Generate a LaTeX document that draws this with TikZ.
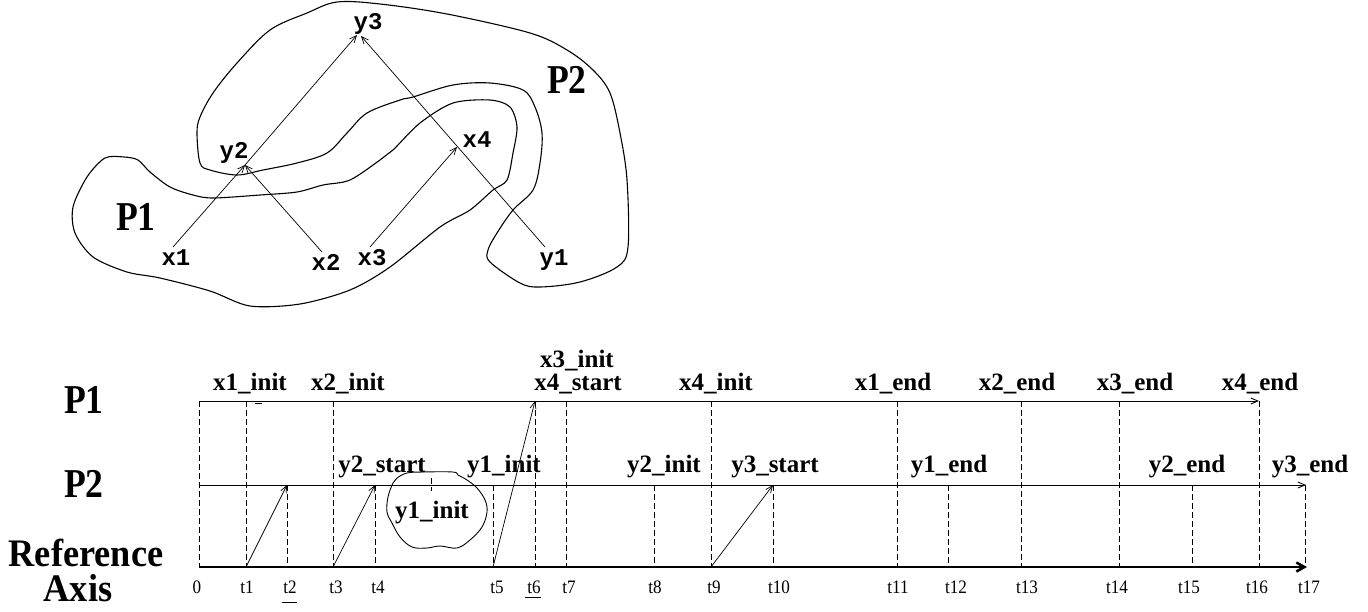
\documentclass[tikz,border=0pt]{standalone}
\usepackage{fontspec}
\setmainfont{Liberation Serif}
\newfontfamily\monob{Liberation Mono}
\newfontfamily\condbf[FakeStretch=0.87]{Liberation Serif}
\newfontfamily\refbf[FakeStretch=0.93]{Liberation Serif}
\newfontfamily\condrm[FakeStretch=0.9]{Liberation Serif}
\usetikzlibrary{arrows.meta}
\begin{document}
\begin{tikzpicture}[x=1pt,y=-1pt,
  big/.style={font=\condbf\fontsize{41}{41}\selectfont\bfseries, anchor=base, inner sep=0pt},
  axlab/.style={font=\refbf\fontsize{39}{39}\selectfont\bfseries, anchor=base, inner sep=0pt},
  lab/.style={font=\fontsize{25}{25}\selectfont\bfseries, anchor=base, inner sep=0pt},
  ticklab/.style={font=\condrm\fontsize{19}{19}\selectfont, anchor=base, inner sep=0pt},
  mono/.style={font=\monob\fontsize{24}{24}\selectfont\bfseries, anchor=base, inner sep=0pt},
  dline/.style={dash pattern=on 6pt off 3pt, line width=0.8pt},
  conn/.style={-{Straight Barb[length=7pt,width=6pt]}, line width=0.7pt},
  outline/.style={line width=1.1pt},
  axisline/.style={line width=0.9pt}]
\useasboundingbox (0,0) rectangle (1368,611);

% ---------------- upper graph ----------------
\draw[outline] plot[smooth cycle, tension=0.55] coordinates {
 (337,2) (380,4) (447,14) (530,33) (567,50) (593,70) (610,93) (620,133)
 (627,180) (628,247) (617,267) (580,282) (540,287) (520,283) (490,262)
 (488,250) (497,233) (513,210) (533,190) (540,163) (542,133) (535,107)
 (523,90) (490,83) (453,85) (413,97) (400,100) (367,113) (347,133) (327,153)
 (297,163) (263,170) (237,175) (210,170) (200,163) (197,133) (200,117)
 (213,93) (237,63) (270,30) (307,13)};
\draw[outline] plot[smooth cycle, tension=0.5] coordinates {
 (105,158) (124,157) (138,160) (150,172) (170,187) (193,195) (213,198)
 (260,195) (297,192) (323,185) (350,180) (380,160) (393,150) (420,123)
 (453,103) (490,100) (510,107) (517,127) (513,153) (507,180) (493,190)
 (470,210) (440,227) (390,267) (350,290) (300,304) (250,306) (210,291)
 (160,278) (127,272) (93,257) (75,233) (73,207) (87,177)};

\node[big] (P1top) at (136,230) {P1};
\node[big] (P2top) at (567,93) {P2};

\node[mono] (y3) at (368,29) {y3};
\node[mono] (y2) at (234,158) {y2};
\node[mono] (x4) at (477,147) {x4};
\node[mono] (x1) at (176,265) {x1};
\node[mono] (x2) at (326,270) {x2};
\node[mono] (x3) at (372,265) {x3};
\node[mono] (y1) at (554,265) {y1};

\coordinate (y3a) at (357,35);
\coordinate (y3b) at (361,36);
\coordinate (y2p) at (245,165);
\coordinate (x4p) at (457,147);
\coordinate (x1p) at (173,247);
\coordinate (x2p) at (322,252);
\coordinate (x3p) at (370,247);
\coordinate (y1p) at (545,247);

\draw[conn] (x1p) -- (y2p);
\draw[conn] (y2p) -- (y3a);
\draw[conn] (x2p) -- (y2p);
\draw[conn] (x3p) -- (x4p);
\draw[conn] (y1p) -- (y3b);

% ---------------- timing diagram ----------------
\node[big] (P1) at (84,413) {P1};
\node[big] (P2) at (84,497) {P2};
\node[axlab] (Ref) at (86,566) {Reference};
\node[axlab] (Axis) at (78,601) {Axis};

\coordinate (p0) at (199,401);
\coordinate (pend) at (1259,401);
\coordinate (q0) at (199,485);
\coordinate (qend) at (1306,485);
\coordinate (a0) at (199,567);
\coordinate (aend) at (1307,567);

\draw[axisline, -{Straight Barb[length=7pt,width=6pt]}] (p0) -- (pend);
\draw[axisline, -{Straight Barb[length=7pt,width=6pt]}] (q0) -- (qend);
\draw[line width=2.6pt, -{Straight Barb[length=8pt,width=9pt]}] (a0) -- (aend);

% dashed verticals from P1 line
\foreach \n/\x in {0/199, 1/246, 3/333, 6/535, 7/566, 9/711, 11/897, 13/1021, 14/1119, 16/1259}{
  \coordinate (pt\n) at (\x,401);
  \coordinate (at\n) at (\x,567);
  \draw[dline] (pt\n) -- (at\n);
}
% dashed verticals from P2 line
\foreach \n/\x in {2/287, 4/375, 5/493, 8/654, 10/773, 12/948, 15/1192, 17/1305}{
  \coordinate (qt\n) at (\x,485);
  \coordinate (at\n) at (\x,567);
  \draw[dline] (qt\n) -- (at\n);
}
\coordinate (blobtickA) at (431,478);
\coordinate (blobtickB) at (431,491);
\draw[dline] (blobtickA) -- (blobtickB);

% communication arrows
\coordinate (ax1) at (246,567); \coordinate (qx2) at (287,485);
\coordinate (ax3) at (333,567); \coordinate (qx4) at (375,485);
\coordinate (ax5) at (493,567); \coordinate (px6) at (535,401);
\coordinate (ax9) at (711,567); \coordinate (qx10) at (773,485);
\draw[conn] (ax1) -- (qx2);
\draw[conn] (ax3) -- (qx4);
\draw[conn] (ax5) -- (px6);
\draw[conn] (ax9) -- (qx10);

% labels row P1
\node[lab] (l1) at (250,390) {x1\_init};
\node[lab] (l2) at (348,390) {x2\_init};
\node[lab] (l3) at (577,367) {x3\_init};
\node[lab] (l4) at (578,390) {x4\_start};
\node[lab] (l5) at (716,390) {x4\_init};
\node[lab] (l6) at (893,390) {x1\_end};
\node[lab] (l7) at (1017,390) {x2\_end};
\node[lab] (l8) at (1135,390) {x3\_end};
\node[lab] (l9) at (1260,390) {x4\_end};
% labels row P2
\node[lab] (m1) at (382,472) {y2\_start};
\node[lab] (m2) at (504,472) {y1\_init};
\node[lab] (m3) at (664,472) {y2\_init};
\node[lab] (m4) at (775,472) {y3\_start};
\node[lab] (m5) at (949,472) {y1\_end};
\node[lab] (m6) at (1187,472) {y2\_end};
\node[lab] (m7) at (1310,472) {y3\_end};

% blob
\draw[line width=0.9pt] plot[smooth cycle, tension=0.6] coordinates {
 (397,478) (407,473) (423,472) (453,472) (458,475) (467,480) (477,488)
 (485,500) (487,512) (482,527) (470,540) (457,548) (440,546) (427,548)
 (412,547) (400,537) (392,523) (387,512) (388,497) (393,483)};
\node[lab] (blab) at (432,518) {y1\_init};

% tick labels
\foreach \n/\x/\t in {0/197/0, 1/247/t1, 2/290/t2, 3/336/t3, 4/378/t4, 5/497/t5,
  6/534/t6, 7/569/t7, 8/655/t8, 9/714/t9, 10/779/t10, 11/898/t11, 12/956/t12,
  13/1027/t13, 14/1117/t14, 15/1189/t15, 16/1257/t16, 17/1309/t17}{
  \node[ticklab] (tl\n) at (\x,593) {\t};
}
\coordinate (u2a) at (282,602); \coordinate (u2b) at (297,602);
\coordinate (u6a) at (525,597); \coordinate (u6b) at (541,597);
\coordinate (u1a) at (255,403); \coordinate (u1b) at (262,403);
\draw[line width=0.8pt] (u2a) -- (u2b);
\draw[line width=0.8pt] (u6a) -- (u6b);
\draw[line width=0.6pt] (u1a) -- (u1b);
\end{tikzpicture}
\end{document}
